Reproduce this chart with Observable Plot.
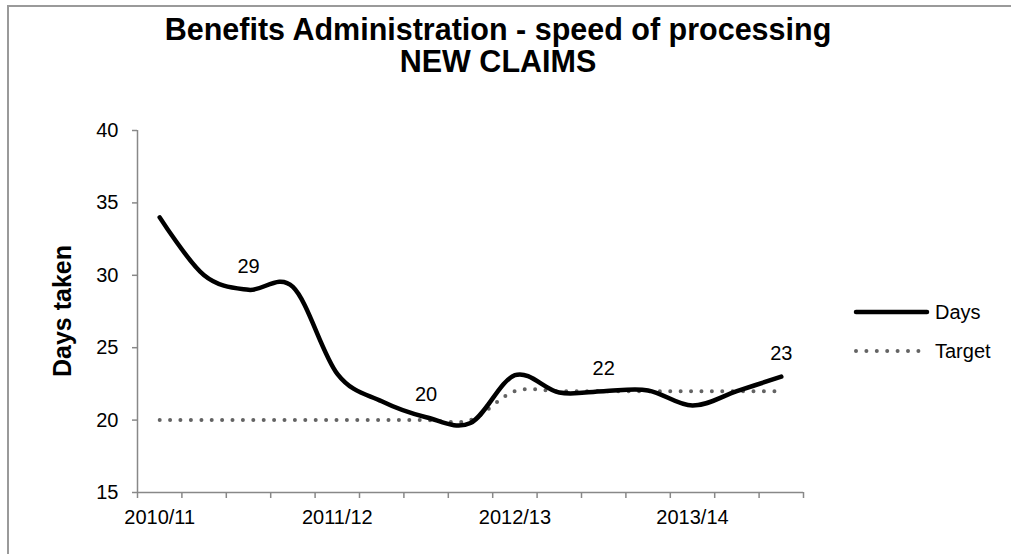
<!DOCTYPE html>
<html><head><meta charset="utf-8">
<script src="https://cdn.jsdelivr.net/npm/d3@7"></script>
<script src="https://cdn.jsdelivr.net/npm/@observablehq/plot@0.6"></script>
<style>
body{margin:0;background:#fff;}
#chart{position:relative;width:1011px;height:554px;overflow:hidden;font-family:"Liberation Sans",Arial,sans-serif;background:#fff;color:#000;}
#frame{position:absolute;left:7px;top:5px;width:1100px;height:700px;border:2px solid #9a9a9a;}
#title{position:absolute;left:0;top:13px;width:996px;text-align:center;font-weight:bold;font-size:30.5px;line-height:32px;}
#plot{position:absolute;left:0;top:90px;}
#ylabel{position:absolute;left:62px;top:311px;transform:translate(-50%,-50%) rotate(-90deg);font-weight:bold;font-size:25px;white-space:nowrap;}
.leg{position:absolute;left:853px;display:flex;align-items:center;font-size:20px;height:24px;}
.leg svg{margin-right:4px;}
</style></head><body>
<div id="chart">
  <div id="frame"></div>
  <div id="title">Benefits Administration - speed of processing<br>NEW CLAIMS</div>
  <div id="ylabel">Days taken</div>
  <div id="plot"></div>
  <div id="legend"></div>
</div>
<script>
// Categories (quarterly periods; a label shown at the start of each year)
const categories = ["2010/11","","","","2011/12","","","","2012/13","","","","2013/14","",""];
const days   = [34, 30, 29, 29.2, 23.2, 21.3, 20.2, 19.8, 23.1, 21.9, 22, 22.05, 21, 22, 23];
const target = [20, 20, 20, 20, 20, 20, 20, 20, 22, 22, 22, 22, 22, 22, 22];
const labelledIdx = [2, 6, 10, 14];
const yTicks = [15, 20, 25, 30, 35, 40];
const seriesNames = ["Days", "Target"];

const rows = categories.map((c, i) => ({i, days: days[i], target: target[i]}));
const labelRows = labelledIdx.map(i => ({i, v: days[i]}));
const labelTickIdx = categories.map((c, i) => c ? i : null).filter(i => i !== null);
const boundaryTicks = d3.range(categories.length + 1).map(k => k - 0.5);

const axisColor = "#888888";
const chart = Plot.plot({
  width: 1011,
  height: 464,
  marginTop: 40,
  marginBottom: 62,
  marginLeft: 137,
  marginRight: 208,
  style: {fontFamily: '"Liberation Sans", Arial, sans-serif', fontSize: "20px", color: "#000", background: "transparent"},
  x: {type: "linear", domain: [-0.5, categories.length - 0.5]},
  y: {domain: [15, 40]},
  marks: [
    Plot.axisY({ticks: yTicks, tickSize: 5, tickPadding: 14, stroke: axisColor, strokeWidth: 1.5, label: null, fontSize: 20}),
    Plot.axisX({ticks: boundaryTicks, tickSize: 6, tickFormat: () => "", stroke: axisColor, strokeWidth: 1.5, label: null}),
    Plot.axisX({ticks: labelTickIdx, tickSize: 0, tickPadding: 17, tickFormat: i => categories[i], label: null, fontSize: 20}),
    Plot.ruleX([-0.5], {stroke: axisColor, strokeWidth: 1.5}),
    Plot.ruleY([15], {stroke: axisColor, strokeWidth: 1.5}),
    Plot.line(rows, {x: "i", y: "target", curve: "cardinal", tension: 0, stroke: "#636363", strokeWidth: 4, strokeDasharray: "0,10.4", strokeLinecap: "round"}),
    Plot.line(rows, {x: "i", y: "days", curve: "cardinal", tension: 0, stroke: "#000", strokeWidth: 4.5, strokeLinecap: "round"}),
    Plot.text(labelRows, {x: "i", y: "v", text: d => d3.format(".0f")(d.v), dy: -23, fontSize: 20, fill: "#000"})
  ]
});
document.getElementById("plot").appendChild(chart);

// Legend
const legend = document.getElementById("legend");
const legendStyles = [
  {stroke: "#000", width: 4.5, dash: null},
  {stroke: "#636363", width: 4, dash: "0,10.4"}
];
seriesNames.forEach((name, k) => {
  const div = document.createElement("div");
  div.className = "leg";
  div.style.top = (300 + k * 39) + "px";
  const s = legendStyles[k];
  div.innerHTML = `<svg width="78" height="24"><line x1="3" x2="74" y1="12" y2="12" stroke="${s.stroke}" stroke-width="${s.width}" stroke-linecap="round" ${s.dash ? `stroke-dasharray="${s.dash}"` : ""}/></svg><span>${name}</span>`;
  legend.appendChild(div);
});
</script>
</body></html>
